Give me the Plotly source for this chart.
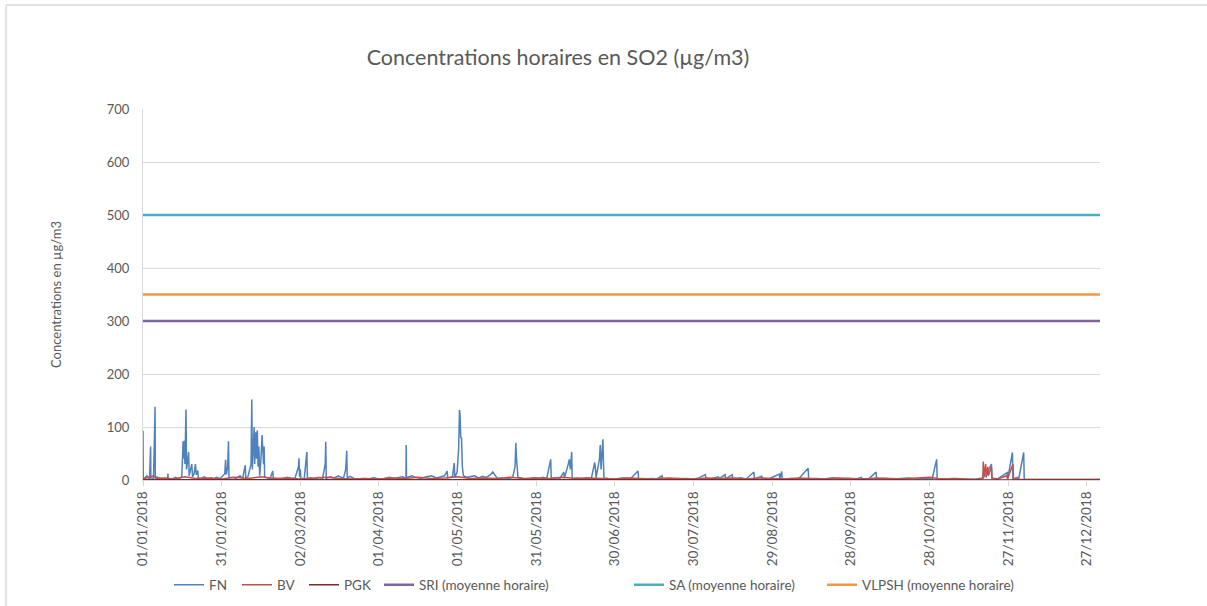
import pandas as pd
import plotly.graph_objects as go

# Hourly SO2 concentrations 2018, x = days since 01/01/2018
fn_day = [0.0, 0.1, 0.6, 1.5, 2.5, 2.9, 3.0, 4.0, 4.5, 4.6, 4.7, 5.5, 6.5, 7.5, 9.4, 9.5, 9.6, 11, 12.5, 13.5,
          14.8, 15.3, 15.5, 15.7, 16.0, 16.4, 16.6, 17.0, 17.4, 17.6, 18.2, 18.6, 18.9, 19.5, 20.0, 20.3, 20.9, 21.1,
          22, 23.5, 24.5, 26, 27, 28, 29.5, 31.2, 31.5, 31.8, 32.3, 32.6, 32.8, 34, 35.5, 37, 38.0, 38.8, 39.0, 39.2,
          40, 41.2, 41.5, 41.7, 42.1, 42.4, 42.6, 43.0, 43.3, 43.6, 43.9, 44.2, 44.5, 45.0, 45.4, 45.7, 46.0, 46.2,
          46.4, 47.5, 48.5, 49.5, 49.7, 51, 53, 55, 56.5, 58, 59.3, 59.5, 59.7, 60.0, 60.2, 61.5, 62.5, 62.7, 64,
          65.5, 67, 68.5, 69.5, 69.7, 69.9, 71.5, 73, 74.5, 75.5, 76.5, 77.3, 77.5, 77.7, 77.9, 79, 80.5, 82, 84, 86,
          88, 90, 92, 94, 95.5, 97, 99, 100.3, 100.4, 100.5, 101.5, 102.5, 104, 106, 108, 110, 112, 113.5, 115, 116,
          116.2, 118.0, 118.7, 118.9, 119.8, 120.4, 120.7, 120.9, 121.2, 121.5, 121.8, 122.2, 123.5, 125, 126.5,
          128, 129.5, 131, 132.5, 133.4, 133.7, 134.2, 135, 136.5, 138, 139.5, 141, 141.9, 142.2, 142.4, 142.7,
          143.0, 145, 147, 149, 151, 152.5, 154, 155.5, 155.7, 157.5, 159, 160.5, 160.7, 162.2, 162.6, 163.0, 163.5,
          163.7, 165.5, 167.5, 169.5, 171, 172.3, 172.6, 172.8, 174.1, 174.4, 174.7, 175.4, 175.6, 175.8, 177.5,
          180, 183, 186, 188.8, 189.0, 191, 194, 196, 198.0, 198.2, 201, 204, 207, 210, 212, 214.5, 214.7, 217,
          219.5, 219.7, 222, 222.2, 224.7, 224.9, 228, 230, 233, 233.2, 236, 236.2, 239, 242.7, 242.9, 243.6,
          243.8, 247, 250, 253.7, 253.9, 257, 260, 263, 266, 269, 272, 274, 274.2, 277, 279.6, 279.8, 283, 286,
          289, 292, 295, 298, 301, 302.7, 302.9, 306, 309, 312, 315, 318, 320.5, 321.0, 322.0, 323.6, 323.8, 326,
          329.6, 329.8, 331.6, 331.8, 333.5, 334, 335.9, 336.1, 340, 345, 350, 355, 360, 365]
fn_val = [93, 5, 3, 8, 2, 63, 4, 3, 110, 138, 6, 5, 3, 2, 4, 12, 3, 2, 5, 2,
          6, 73, 40, 74, 30, 133, 20, 35, 53, 8, 25, 30, 6, 12, 30, 10, 18, 4,
          3, 6, 2, 4, 2, 5, 3, 12, 38, 10, 25, 73, 4, 5, 3, 8, 3, 20, 28, 4,
          6, 30, 152, 20, 70, 100, 30, 90, 40, 94, 25, 63, 8, 40, 85, 60, 30, 63,
          5, 4, 3, 17, 4, 3, 2, 5, 3, 4, 25, 41, 6, 20, 3, 3, 53, 3, 4,
          2, 5, 3, 30, 72, 3, 6, 4, 8, 5, 4, 20, 35, 55, 4, 7, 3, 2, 3, 2,
          4, 2, 3, 5, 3, 4, 6, 3, 66, 4, 6, 8, 5, 3, 6, 8, 4, 6, 8, 17,
          4, 6, 32, 5, 15, 60, 132, 125, 80, 79, 25, 8, 5, 6, 8,
          4, 7, 5, 10, 15, 13, 8, 4, 3, 4, 3, 5, 25, 70, 45, 25,
          5, 3, 2, 4, 3, 5, 3, 39, 3, 4, 3, 15, 3, 30, 39, 20, 53,
          3, 4, 3, 4, 3, 33, 20, 4, 40, 66, 20, 77, 38, 4, 3,
          2, 4, 3, 17, 3, 2, 3, 2, 8, 2, 3, 2, 3, 2, 4, 10, 2, 3,
          6, 2, 10, 2, 10, 2, 4, 2, 15, 2, 7, 2, 3, 11, 3, 16,
          2, 3, 2, 22, 2, 3, 2, 4, 2, 3, 2, 5, 2, 3, 15, 2, 3, 2,
          3, 4, 2, 3, 2, 39, 3, 2, 3, 2, 1, 2, 4, 8, 14, 30, 4, 2,
          14, 2, 52, 2, 5, 2, 52, 1, 1, 1, 1, 1, 1, 1]

bv_day = [0, 2, 4, 5, 8, 12, 16, 20, 25, 30, 35, 40, 45, 50, 55, 60, 65, 70, 75, 80, 85, 90, 95, 100, 105, 110,
          115, 120, 125, 130, 135, 140, 145, 150, 155, 160, 165, 170, 175, 180, 185, 190, 195, 200, 205, 210, 215,
          220, 225, 230, 235, 240, 245, 250, 255, 260, 265, 270, 275, 280, 285, 290, 295, 300, 303, 305, 310, 314,
          316, 318, 320.3, 320.5, 320.7, 321.4, 321.6, 322.2, 322.4, 323.3, 323.6, 323.8, 326, 329.5, 329.7, 331.8,
          332.0, 334, 340, 350, 365]
bv_val = [2, 5, 8, 3, 4, 2, 6, 3, 4, 2, 5, 3, 6, 3, 4, 2, 3, 5, 3, 2, 3, 2, 4, 3, 5, 3,
          4, 6, 3, 4, 3, 5, 3, 4, 3, 5, 3, 4, 3, 2, 4, 3, 2, 4, 3, 2, 4,
          3, 4, 2, 4, 3, 2, 4, 3, 2, 4, 3, 2, 4, 3, 2, 4, 5, 3, 2, 3, 2,
          1, 1, 3, 35, 8, 30, 5, 25, 8, 20, 25, 3, 2, 8, 2, 30,
          3, 1, 1, 1, 1]

pgk_day = [0, 30, 55, 58, 62, 66, 70, 120, 200, 300, 365]
pgk_val = [0.3, 0.5, 0.5, 1.5, 1.5, 0.5, 0.3, 0.4, 0.3, 0.3, 0.2]

# Hourly limit values (moyenne horaire)
sri_val = 300
sa_val = 500
vlpsh_val = 350

tick_labels = ["01/01/2018", "31/01/2018", "02/03/2018", "01/04/2018", "01/05/2018", "31/05/2018",
               "30/06/2018", "30/07/2018", "29/08/2018", "28/09/2018", "28/10/2018", "27/11/2018", "27/12/2018"]

start = pd.Timestamp("2018-01-01")
end = pd.Timestamp("2019-01-01")


def to_dates(days):
    return start + pd.to_timedelta(days, unit="D")


grey = "#595959"
font_family = "Lato, 'Open Sans', sans-serif"

# plot area in pixels: x 143..1100, y 109..480
px_l, px_r, px_t, px_b = 143, 1100, 109, 480
pw, ph = px_r - px_l, px_b - px_t


def lx(x):
    return (x - px_l) / pw


def ly(y):
    return (px_b - y) / ph


series = [
    ("FN", to_dates(fn_day), fn_val, "#4F81BD", 1.5),
    ("BV", to_dates(bv_day), bv_val, "#C0504D", 1.5),
    ("PGK", to_dates(pgk_day), pgk_val, "#772C2A", 1.5),
    ("SRI (moyenne horaire)", [start, end], [sri_val, sri_val], "#8064A2", 2.5),
    ("SA (moyenne horaire)", [start, end], [sa_val, sa_val], "#4BACC6", 2.5),
    ("VLPSH (moyenne horaire)", [start, end], [vlpsh_val, vlpsh_val], "#F79646", 2.5),
]
legend_x = [177, 245, 312, 387, 637, 830]

fig = go.Figure()
legends = {}
for i, (name, xs, ys, color, w) in enumerate(series):
    key = "legend" if i == 0 else f"legend{i + 1}"
    fig.add_trace(go.Scatter(x=xs, y=ys, mode="lines", name=name, legend=key,
                             line=dict(color=color, width=w)))
    legends[key] = dict(orientation="h", x=lx(legend_x[i] - 8), xanchor="left", y=ly(585), yanchor="middle",
                        font=dict(size=13.5, color=grey), itemwidth=30, bgcolor="rgba(0,0,0,0)")

fig.update_xaxes(
    type="date", range=[start, end],
    tickvals=pd.to_datetime(tick_labels, format="%d/%m/%Y"), ticktext=tick_labels,
    tickangle=-90, tickfont=dict(size=13.5, color=grey),
    ticks="outside", ticklen=5, tickcolor="#d9d9d9",
    showline=True, linecolor="#d9d9d9", linewidth=1, showgrid=False, zeroline=False,
    automargin=False,
)
fig.update_yaxes(
    range=[0, 700], dtick=100, tickfont=dict(size=13, color=grey),
    showgrid=True, gridcolor="#d9d9d9", gridwidth=1,
    showline=True, linecolor="#d9d9d9", linewidth=1, zeroline=False,
    ticklabelstandoff=10, automargin=False,
    title=dict(text="Concentrations en µg/m3", font=dict(size=13, color=grey), standoff=42),
)

fig.update_layout(
    width=1207, height=606,
    margin=dict(l=px_l, r=1207 - px_r, t=px_t, b=606 - px_b, autoexpand=False),
    paper_bgcolor="white", plot_bgcolor="white",
    font=dict(family=font_family, color=grey),
    title=dict(text="Concentrations horaires en SO2 (µg/m3)", x=558 / 1207, xref="container", xanchor="center",
               y=1 - 57 / 606, yref="container", yanchor="middle", font=dict(size=21.5, color=grey)),
    showlegend=True,
    shapes=[
        dict(type="line", xref="paper", yref="paper", x0=lx(6), x1=lx(1210), y0=ly(5), y1=ly(5),
             line=dict(color="#d9d9d9", width=1.5)),
        dict(type="line", xref="paper", yref="paper", x0=lx(6), x1=lx(6), y0=ly(5), y1=ly(610),
             line=dict(color="#d9d9d9", width=1.5)),
    ],
    **legends,
)

fig.write_html("out.html", config={"displayModeBar": False},
               post_script="document.body.style.margin='0';")
